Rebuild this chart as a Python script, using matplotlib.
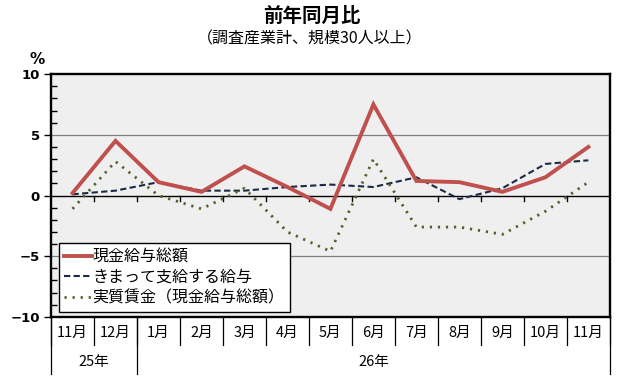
import matplotlib
matplotlib.use("Agg")
import matplotlib.pyplot as plt
import numpy as np

plt.rcParams["font.family"] = ["Noto Sans CJK JP", "DejaVu Sans"]

# ── Data ───────────────────────────────────────────────────────────────────────
MONTHS = ["11月", "12月", "1月", "2月", "3月", "4月", "5月", "6月",
          "7月", "8月", "9月", "10月", "11月"]
YEARS = ["25年", "26年"]
YEAR_SPANS = [2, 11]          # number of months under each year

TOTAL_PAY   = [0.2, 4.5, 1.1, 0.3, 2.4, 0.7, -1.1, 7.5, 1.2, 1.1, 0.3, 1.5, 4.0]
SCHEDULED   = [0.1, 0.4, 1.1, 0.4, 0.4, 0.7, 0.9, 0.7, 1.5, -0.3, 0.6, 2.6, 2.9]
REAL_WAGE   = [-1.1, 2.8, 0.0, -1.1, 0.6, -3.0, -4.6, 3.0, -2.6, -2.6, -3.2, -1.3, 1.1]

LABELS = ["現金給与総額", "きまって支給する給与", "実質賃金（現金給与総額）"]

RED   = "#C0504D"
NAVY  = "#1B2A44"
GREEN = "#4F6228"

fig = plt.figure(figsize=(6.3, 3.8), dpi=100)
ax = fig.add_axes([0.081, 0.166, 0.887, 0.639])
ax.set_facecolor("#EFEFEF")

x = np.arange(len(MONTHS))

ax.plot(x, TOTAL_PAY, color=RED, lw=2.8, solid_joinstyle="miter", label=LABELS[0], zorder=4)
ax.plot(x, SCHEDULED, color=NAVY, lw=1.5, dashes=(3, 1.6), label=LABELS[1], zorder=3)
ax.plot(x, REAL_WAGE, color=GREEN, lw=2.0, dashes=(0.8, 2.1), dash_capstyle="butt",
        label=LABELS[2], zorder=3)

# grid lines and zero line
for yv in (-5, 5):
    ax.axhline(yv, color="#808080", lw=0.9, zorder=1)
ax.axhline(0, color="black", lw=1.0, zorder=2)

# category separator ticks on the zero line
for b in np.arange(0.5, len(MONTHS) - 0.5, 1.0):
    ax.plot([b, b], [0, -0.42], color="black", lw=1.0, zorder=2)

ax.set_xlim(-0.5, len(MONTHS) - 0.5)
ax.set_ylim(-10, 10)
ax.set_yticks([-10, -5, 0, 5, 10])
ax.set_yticklabels(["−10", "−5", "0", "5", "10"], family="DejaVu Sans",
                   fontweight="bold", fontsize=9.5)
ax.set_yticks(np.arange(-10, 11, 1), minor=True)
ax.tick_params(axis="y", which="major", direction="out", length=5, width=1, pad=3)
ax.tick_params(axis="y", which="minor", direction="in", length=4, width=1)
ax.set_xticks([])
for s in ax.spines.values():
    s.set_linewidth(1.7)

ax.text(-0.012, 1.06, "%", transform=ax.transAxes, ha="right", va="center",
        family="DejaVu Sans", fontweight="bold", fontsize=11)

# ── Category table below the axis ──────────────────────────────────────────────
trans = ax.get_xaxis_transform()
month_bottom = -0.115
year_bottom = -0.235
for i, m in enumerate(MONTHS):
    ax.text(i, -0.066, m, transform=trans, ha="center", va="center", fontsize=10.5)
for b in np.arange(-0.5, len(MONTHS) + 0.5, 1.0):
    ax.plot([b, b], [0, month_bottom], transform=trans, color="black", lw=0.9,
            clip_on=False)
edges = np.concatenate([[0], np.cumsum(YEAR_SPANS)]) - 0.5
for b in edges:
    ax.plot([b, b], [0, year_bottom], transform=trans, color="black", lw=0.9,
            clip_on=False)
for yr, lo, hi in zip(YEARS, edges[:-1], edges[1:]):
    ax.text((lo + hi) / 2, -0.185, yr, transform=trans, ha="center", va="center",
            fontsize=10.5)

# ── Legend ─────────────────────────────────────────────────────────────────────
leg = ax.legend(loc="lower left", bbox_to_anchor=(0.014, 0.02), fontsize=11.5,
                handlelength=1.7, handletextpad=0.05, borderpad=0.35,
                labelspacing=0.22, fancybox=False, framealpha=1,
                edgecolor="black", borderaxespad=0)
leg.get_frame().set_linewidth(1.0)

# ── Titles ─────────────────────────────────────────────────────────────────────
fig.text(0.495, 0.958, "前年同月比", ha="center", va="center", fontsize=14,
         fontweight="bold")
fig.text(0.492, 0.897, "（調査産業計、規模30人以上）", ha="center", va="center",
         fontsize=11.5)

fig.savefig("out.png", dpi=100)
